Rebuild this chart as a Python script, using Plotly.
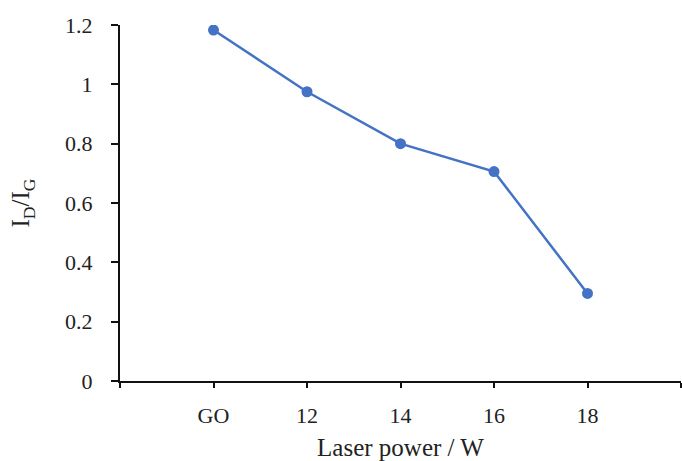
import plotly.graph_objects as go

# Raman intensity ratio vs laser power
categories = ["GO", "12", "14", "16", "18"]
id_ig = [1.183, 0.975, 0.800, 0.706, 0.295]

y_ticks = [0, 0.2, 0.4, 0.6, 0.8, 1.0, 1.2]
y_tick_text = ["0", "0.2", "0.4", "0.6", "0.8", "1", "1.2"]

x_pos = list(range(len(categories)))
x_tickvals = [-1] + x_pos + [len(categories)]
x_ticktext = [""] + categories + [""]

FONT = "Liberation Serif, Times New Roman, serif"
TEXT = "#222222"
BLUE = "#4472C4"

fig = go.Figure()
fig.add_trace(go.Scatter(
    x=x_pos, y=id_ig, mode="lines+markers",
    line=dict(color=BLUE, width=2.5),
    marker=dict(color=BLUE, size=11),
    showlegend=False, hoverinfo="skip",
))

fig.update_layout(
    width=682, height=461,
    margin=dict(l=120, r=1, t=25, b=80),
    paper_bgcolor="white", plot_bgcolor="white",
    font=dict(family=FONT, color=TEXT, size=22),
)
fig.update_xaxes(
    range=[-1, len(categories)],
    tickmode="array", tickvals=x_tickvals, ticktext=x_ticktext,
    showline=True, linecolor="#111111", linewidth=2,
    ticks="outside", ticklen=5, tickwidth=1.5, tickcolor="#111111",
    showgrid=False, zeroline=False,
    ticklabelstandoff=9,
    tickfont=dict(size=22, family=FONT, color=TEXT),
    title=dict(text="Laser power / W", font=dict(size=25, family=FONT, color=TEXT), standoff=11),
)
fig.update_yaxes(
    range=[0, 1.2],
    tickmode="array", tickvals=y_ticks, ticktext=y_tick_text,
    showline=True, linecolor="#111111", linewidth=2,
    ticks="outside", ticklen=7, tickwidth=1.5, tickcolor="#111111",
    showgrid=False, zeroline=False,
    ticklabelstandoff=14,
    tickfont=dict(size=22, family=FONT, color=TEXT),
    title=dict(text="I<sub>D</sub>/I<sub>G</sub>", font=dict(size=25, family=FONT, color=TEXT), standoff=28),
)

fig.write_html("out.html")
